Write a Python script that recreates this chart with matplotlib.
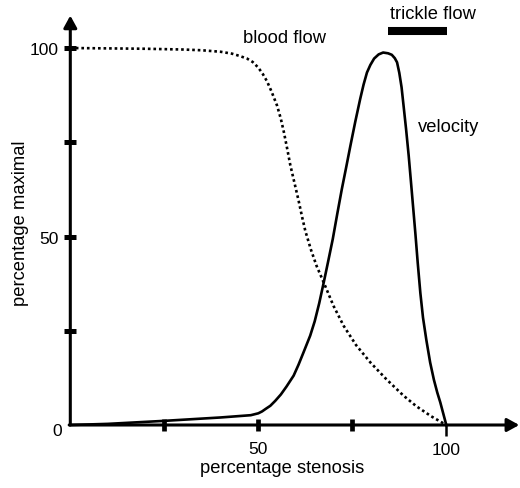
import matplotlib
matplotlib.use("Agg")
import matplotlib.pyplot as plt

plt.rcParams['font.family'] = ['Liberation Sans', 'DejaVu Sans']

# ---- data ----
velocity_x = [0, 10, 25, 40, 48, 50, 51, 52, 53.2, 54.5, 56, 57.5, 59.4, 60.7, 62, 63.8,
              65, 66.2, 67.4, 68.6, 69.8, 71.0, 72.2, 73.4, 74.5, 75.8, 77.1, 78.0,
              78.9, 79.8, 80.8, 82.0, 83.2, 84.5, 85.5, 86.3, 86.9, 87.5, 88.1, 88.6,
              89.3, 90.0, 90.6, 91.2, 91.8, 92.4, 93.1, 93.8, 94.7, 95.7, 96.7, 97.6,
              98.4, 99.2, 100]
velocity_y = [0, 0.3, 1.1, 2.0, 2.6, 3.1, 3.6, 4.3, 5.1, 6.4, 8.1, 10.2, 13.1, 16.0, 19.2, 23.7,
              27.5, 32.3, 37.8, 43.5, 49.3, 56.0, 62.5, 68.5, 74.1, 80.5, 86.5, 90.3,
              93.5, 95.5, 97.2, 98.3, 98.8, 98.6, 98.2, 97.3, 96.2, 93.4, 89.6, 85.0,
              78.5, 71.4, 64.5, 57.5, 50.5, 43.0, 35.0, 28.5, 22.5, 16.6, 12.0, 8.6,
              6.0, 3.0, 0]

flow_x = [0, 10, 20, 30, 35, 40, 43, 45, 47, 48.5, 50, 51.2, 52.3, 53.5, 55, 56, 56.8,
          57.7, 58.5, 59.6, 60.7, 61.6, 62.5, 64, 65.5, 67.4, 70, 72.7, 76, 79.8,
          84, 88.6, 92, 96, 100]
flow_y = [100, 99.9, 99.8, 99.6, 99.4, 99.0, 98.5, 97.9, 97.2, 96.3, 94.8, 93.1, 91.2, 88.5, 84.7, 81.2, 77.7,
          73.2, 69.0, 64.3, 59.6, 55.4, 51.5, 46.5, 42.2, 37.8, 31.6, 26.3, 21.2, 16.6,
          12.2, 7.8, 5.0, 2.3, 0]

trickle_range = [84.4, 100.1]

x_ticks = [25, 50, 75]
x_tick_labels = ['', '50', '']
y_ticks = [25, 50, 75, 100]
y_tick_labels = ['', '50', '', '100']

# ---- figure ----
fig = plt.figure(figsize=(5.2, 4.89), dpi=100)
ax = fig.add_axes([70.3 / 520, 63 / 489, (520 - 70.3) / 520, 426 / 489])
ax.set_xlim(0, 119.6)
ax.set_ylim(0, 113.0)
for s in ax.spines.values():
    s.set_visible(False)

# axes with arrows
arrow = dict(arrowstyle='-|>,head_length=0.6,head_width=0.33', lw=2.2, color='black',
             mutation_scale=12, shrinkA=0, shrinkB=0)
ax.annotate('', xy=(0, 108.6), xytext=(0, 0), arrowprops=arrow, annotation_clip=False)
ax.annotate('', xy=(119.4, 0), xytext=(-0.3, 0), arrowprops=arrow, annotation_clip=False)

# curves
ax.plot(flow_x, flow_y, color='black', lw=1.9, linestyle=(0, (1, 1.1)), clip_on=False,
        solid_capstyle='butt', dash_capstyle='butt')
ax.plot(velocity_x, velocity_y, color='black', lw=1.9, clip_on=False, zorder=3,
        solid_joinstyle='round')

# trickle flow bar
ax.plot(trickle_range, [104.6, 104.6], color='black', lw=5.8, solid_capstyle='butt', clip_on=False)

# ticks
ax.set_xticks(x_ticks, labels=x_tick_labels)
ax.set_xticks([100], labels=['100'], minor=True)
ax.set_yticks(y_ticks, labels=y_tick_labels)
ax.tick_params(axis='x', which='major', direction='inout', length=8.4, width=3.4,
               labelsize=12.5, pad=7.5)
ax.tick_params(axis='x', which='minor', direction='out', length=8.0, width=1.8,
               labelsize=12.5, pad=4.2)
ax.tick_params(axis='y', which='major', direction='inout', length=9.1, width=3.6,
               labelsize=12.5, pad=3.6)
ax.text(-2.3, -1.5, '0', ha='right', va='center', fontsize=12.5)

# axis labels
ax.text(56.4, -11.4, 'percentage stenosis', ha='center', va='center', fontsize=13.2)
ax.text(-13.2, 53.8, 'percentage maximal', ha='center', va='center', rotation=90, fontsize=13.2)

# annotations
ax.text(57.0, 102.8, 'blood flow', ha='center', va='center', fontsize=13.2)
ax.text(96.4, 109.2, 'trickle flow', ha='center', va='center', fontsize=13.2)
ax.text(100.5, 79.3, 'velocity', ha='center', va='center', fontsize=13.2)

fig.savefig('out.png', dpi=100)
